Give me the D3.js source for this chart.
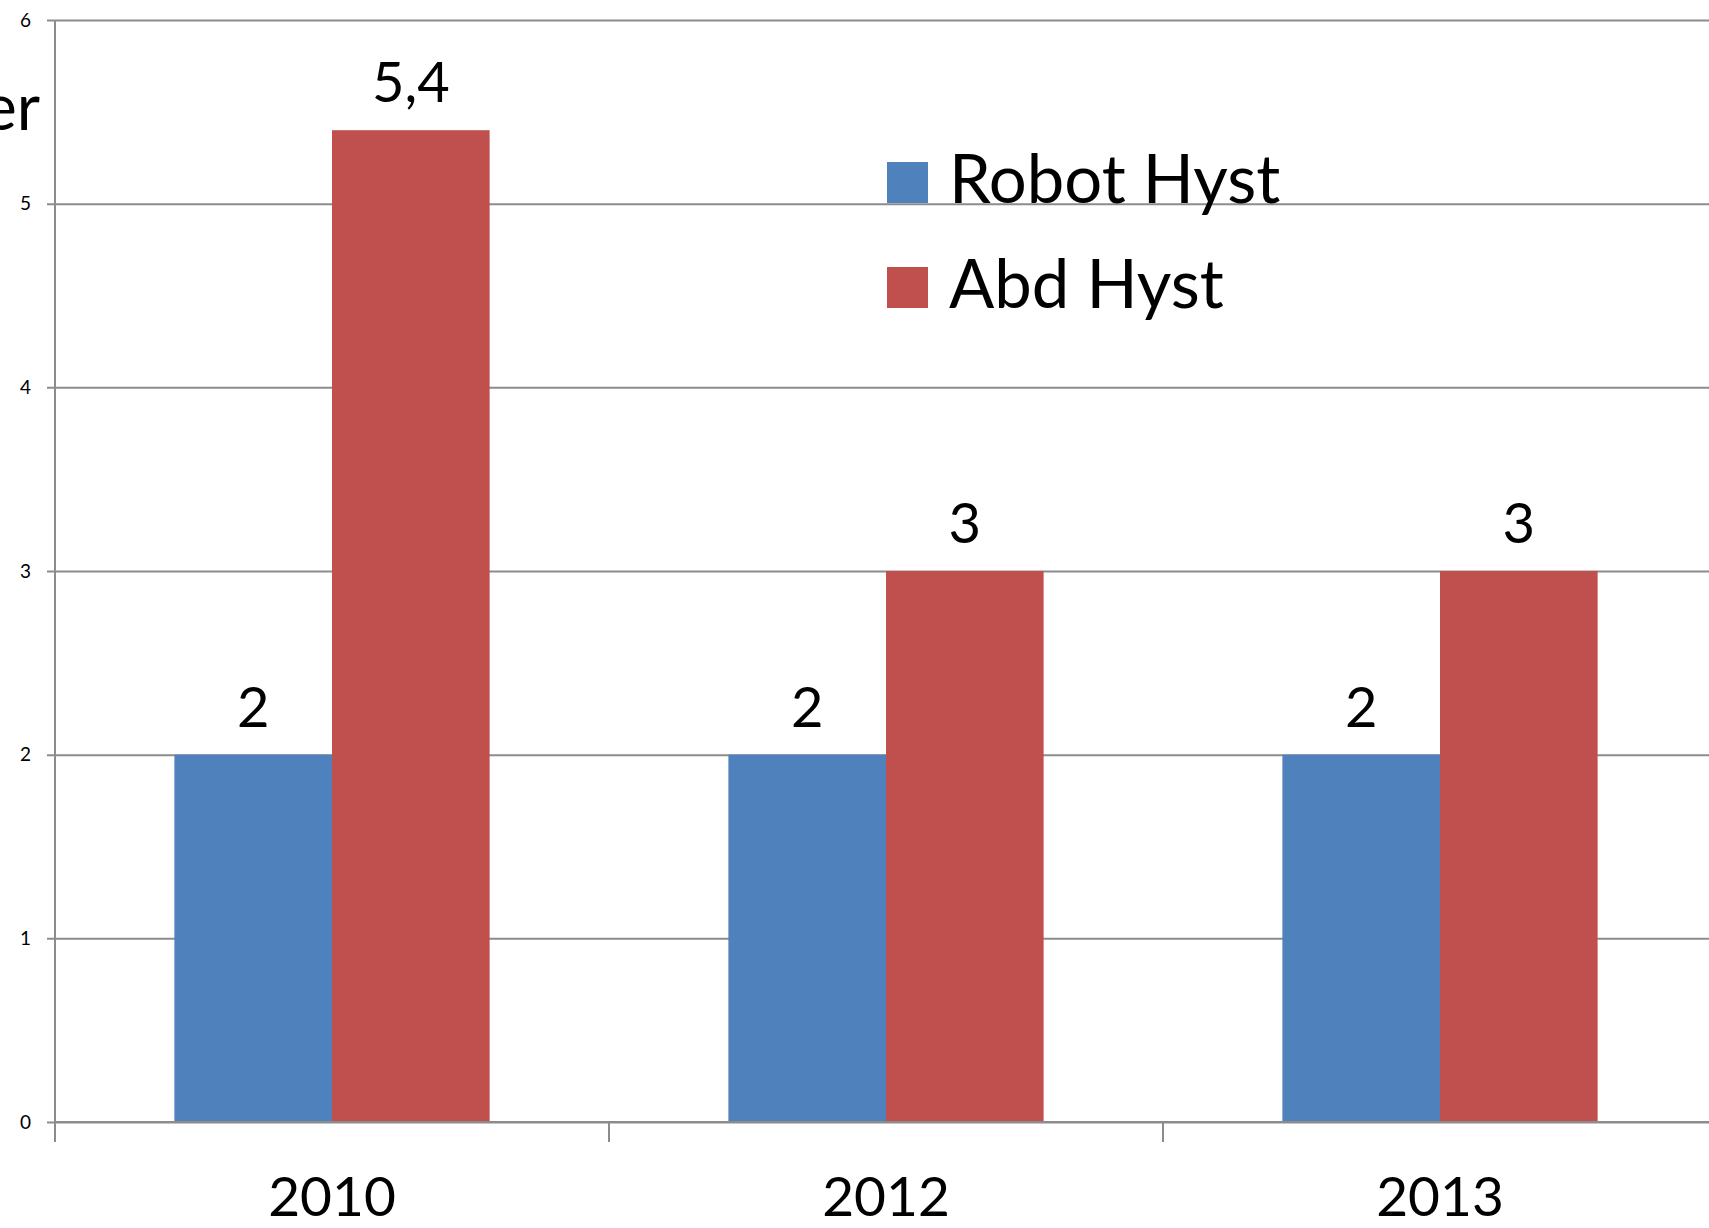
<!DOCTYPE html>
<html>
<head>
<meta charset="utf-8">
<script src="https://cdn.jsdelivr.net/npm/d3@7"></script>
<style>
  body { margin: 0; background: #fff; }
  svg { display: block; font-family: Lato, 'Open Sans', sans-serif; }
</style>
</head>
<body>
<div id="chart"></div>
<script>
// Chart data
const years = ['2010', '2012', '2013'];
const seriesNames = ['Robot Hyst', 'Abd Hyst'];
const robotHyst = [2, 2, 2];
const abdHyst = [5.4, 3, 3];
const yTicks = [0, 1, 2, 3, 4, 5, 6];
const seriesColors = ['#4F81BD', '#C0504D'];

const width = 1709;
const height = 1228;
const margin = { left: 55, top: 20 };
const plotRight = 1717; // plot runs past the right edge
const zeroY = 1122;

const svg = d3
  .select('#chart')
  .append('svg')
  .attr('width', width)
  .attr('height', height);

const x = d3
  .scaleBand()
  .domain(years)
  .range([margin.left, plotRight])
  .paddingInner(0.431)
  .paddingOuter(0.2155);

const xInner = d3.scaleBand().domain(seriesNames).range([0, x.bandwidth()]);

const y = d3.scaleLinear().domain([0, 6]).range([zeroY, margin.top]);

// Gridlines + y labels
const yAxis = svg
  .append('g')
  .attr('transform', `translate(${margin.left},0)`)
  .call(d3.axisLeft(y).tickValues(yTicks).tickFormat(d3.format('d')).tickSizeOuter(0));
yAxis.select('.domain').remove();
yAxis
  .selectAll('.tick line')
  .attr('x1', -8)
  .attr('x2', plotRight - margin.left)
  .attr('stroke', '#8c8c8c')
  .attr('stroke-width', 2);
yAxis
  .selectAll('.tick text')
  .attr('x', -24)
  .attr('font-size', 19)
  .attr('font-family', 'Lato, sans-serif')
  .attr('fill', '#000');

// Bars
const rows = years.map((yr, i) => ({ year: yr, values: [robotHyst[i], abdHyst[i]] }));

const groups = svg
  .append('g')
  .selectAll('g')
  .data(rows)
  .join('g')
  .attr('transform', (d) => `translate(${x(d.year)},0)`);

groups
  .selectAll('rect')
  .data((d) => d.values.map((v, j) => ({ name: seriesNames[j], v, j })))
  .join('rect')
  .attr('x', (d) => xInner(d.name))
  .attr('width', xInner.bandwidth())
  .attr('y', (d) => y(d.v))
  .attr('height', (d) => zeroY - y(d.v))
  .attr('fill', (d) => seriesColors[d.j]);

groups
  .selectAll('text')
  .data((d) => d.values.map((v, j) => ({ name: seriesNames[j], v })))
  .join('text')
  .attr('x', (d) => xInner(d.name) + xInner.bandwidth() / 2)
  .attr('y', (d) => y(d.v) - 28)
  .attr('text-anchor', 'middle')
  .attr('font-size', 56)
  .text((d) => String(d.v).replace('.', ','));

// X axis line, ticks at category boundaries, labels
svg
  .append('line')
  .attr('x1', margin.left)
  .attr('x2', plotRight)
  .attr('y1', y(0))
  .attr('y2', y(0))
  .attr('stroke', '#8c8c8c')
  .attr('stroke-width', 2);

svg
  .append('g')
  .selectAll('line')
  .data(d3.range(years.length + 1))
  .join('line')
  .attr('x1', (i) => margin.left + i * x.step())
  .attr('x2', (i) => margin.left + i * x.step())
  .attr('y1', y(0))
  .attr('y2', y(0) + 20)
  .attr('stroke', '#8c8c8c')
  .attr('stroke-width', 2);

svg
  .append('g')
  .selectAll('text')
  .data(years)
  .join('text')
  .attr('x', (d) => x(d) + x.bandwidth() / 2)
  .attr('y', y(0) + 94)
  .attr('text-anchor', 'middle')
  .attr('font-size', 55)
  .text((d) => d);

// Y axis line
svg
  .append('line')
  .attr('x1', margin.left)
  .attr('x2', margin.left)
  .attr('y1', y(6))
  .attr('y2', y(0) + 20)
  .attr('stroke', '#8c8c8c')
  .attr('stroke-width', 2);

// Cut-off axis title
svg
  .append('text')
  .attr('x', 40)
  .attr('y', 130)
  .attr('text-anchor', 'end')
  .attr('font-size', 64)
  .text('er');

// Legend
const legend = svg
  .append('g')
  .selectAll('g')
  .data(seriesNames)
  .join('g')
  .attr('transform', (d, i) => `translate(887,${162 + i * 105})`);

legend
  .append('rect')
  .attr('width', 41)
  .attr('height', 41)
  .attr('fill', (d, i) => seriesColors[i]);

legend
  .append('text')
  .attr('x', 62)
  .attr('y', 41)
  .attr('font-size', 67)
  .text((d) => d);
</script>
</body>
</html>
